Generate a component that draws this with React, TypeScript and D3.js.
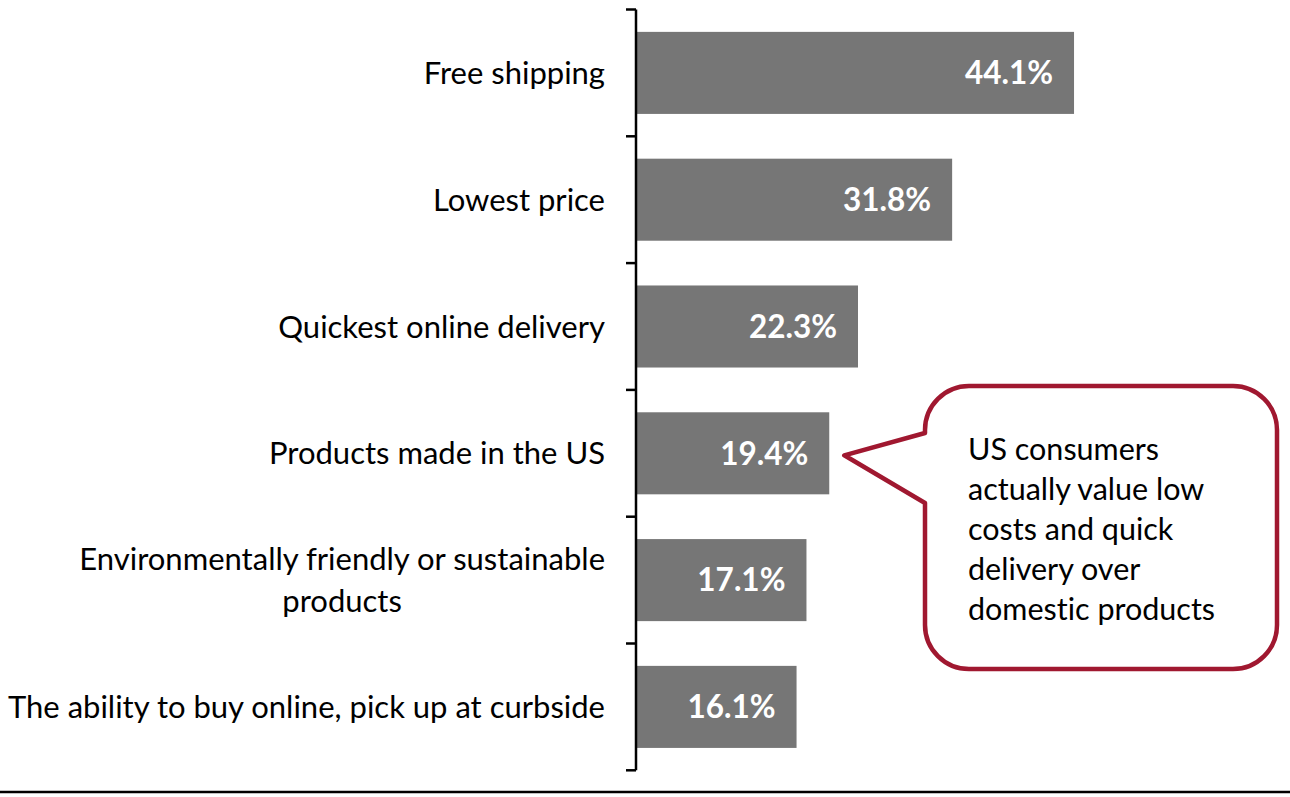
import React, { useEffect, useRef } from "react";
import * as d3 from "d3";

const categories: string[][] = [
  ["Free shipping"],
  ["Lowest price"],
  ["Quickest online delivery"],
  ["Products made in the US"],
  ["Environmentally friendly or sustainable", "products"],
  ["The ability to buy online, pick up at curbside"],
];
const values: number[] = [44.1, 31.8, 22.3, 19.4, 17.1, 16.1];
const calloutLines: string[] = [
  "US consumers",
  "actually value low",
  "costs and quick",
  "delivery over",
  "domestic products",
];
const calloutTarget = 3;

const W = 1290;
const H = 797;
const FONT = "Lato, 'Open Sans', sans-serif";
const BAR = "#767676";
const RED = "#a01830";

export default function App() {
  const ref = useRef<SVGSVGElement>(null);
  useEffect(() => {
    const svg = d3.select(ref.current);
    svg.selectAll("*").remove();
    svg.style("font-variant-ligatures", "none");
    const keys = categories.map((c) => c.join(" "));
    const x0 = 637;
    const x = d3.scaleLinear().domain([0, 45]).range([x0, x0 + 45 * 9.91]);
    const y = d3
      .scaleBand<string>()
      .domain(keys)
      .range([9.5, 770.3])
      .paddingInner(0.353)
      .paddingOuter(0.1765);
    const step = y.step();
    const rangeStart = 9.5;

    // bars
    svg
      .append("g")
      .selectAll("rect")
      .data(values)
      .join("rect")
      .attr("x", x(0))
      .attr("y", (_, i) => y(keys[i])!)
      .attr("width", (d) => x(d) - x(0))
      .attr("height", y.bandwidth())
      .attr("fill", BAR);

    // value labels
    svg
      .append("g")
      .selectAll("text")
      .data(values)
      .join("text")
      .attr("x", (d) => x(d) - 21)
      .attr("y", (_, i) => y(keys[i])! + y.bandwidth() / 2)
      .attr("dy", "0.36em")
      .attr("text-anchor", "end")
      .attr("font-family", FONT)
      .attr("font-weight", "bold")
      .attr("font-size", 31.5)
      .attr("fill", "#ffffff")
      .text((d) => d.toFixed(1) + "%");

    // axis
    const ax = svg.append("g").attr("stroke", "#000").attr("stroke-width", 2.5);
    ax.append("line")
      .attr("x1", 636)
      .attr("x2", 636)
      .attr("y1", rangeStart)
      .attr("y2", rangeStart + step * keys.length);
    d3.range(keys.length + 1).forEach((i) => {
      ax.append("line")
        .attr("x1", 626)
        .attr("x2", 636)
        .attr("y1", rangeStart + i * step)
        .attr("y2", rangeStart + i * step);
    });

    // category labels
    const lg = svg.append("g");
    categories.forEach((lines, i) => {
      const cy = y(keys[i])! + y.bandwidth() / 2;
      const lh = 42;
      const g = lg.append("g");
      const texts = lines.map((ln, j) =>
        g
          .append("text")
          .attr("y", cy + (j - (lines.length - 1) / 2) * lh)
          .attr("dy", "0.36em")
          .attr("font-family", FONT)
          .attr("font-size", 31)
          .attr("fill", "#000")
          .text(ln)
      );
      const widths = texts.map((t) => (t.node() as SVGTextElement).getComputedTextLength());
      const maxW = Math.max(...widths);
      const right = 605;
      const center = right - maxW / 2;
      texts.forEach((t) => t.attr("x", center).attr("text-anchor", "middle"));
    });

    // bottom line
    svg
      .append("line")
      .attr("x1", 0)
      .attr("x2", W)
      .attr("y1", 792)
      .attr("y2", 792)
      .attr("stroke", "#000")
      .attr("stroke-width", 2.5);

    // callout
    const L = 925, R = 1277, T = 386, B = 669, r = 44;
    const tipX = x(values[calloutTarget]) + 15;
    const tipY = y(keys[calloutTarget])! + y.bandwidth() / 2 + 2;
    const p = d3.path();
    p.moveTo(L + r, T);
    p.lineTo(R - r, T);
    p.arcTo(R, T, R, T + r, r);
    p.lineTo(R, B - r);
    p.arcTo(R, B, R - r, B, r);
    p.lineTo(L + r, B);
    p.arcTo(L, B, L, B - r, r);
    p.lineTo(L, 503);
    p.lineTo(tipX, tipY);
    p.lineTo(L, 433);
    p.lineTo(L, T + r);
    p.arcTo(L, T, L + r, T, r);
    p.closePath();
    svg
      .append("path")
      .attr("d", p.toString())
      .attr("fill", "#fff")
      .attr("stroke", RED)
      .attr("stroke-width", 4.5)
      .attr("stroke-linejoin", "round");

    svg
      .append("g")
      .selectAll("text")
      .data(calloutLines)
      .join("text")
      .attr("x", 968)
      .attr("y", (_, i) => 460 + i * 40)
      .attr("font-family", FONT)
      .attr("font-size", 30.5)
      .attr("fill", "#000")
      .text((d) => d);
  }, []);
  return (
    <svg
      ref={ref}
      width={W}
      height={H}
      style={{ position: "absolute", left: 0, top: 0, background: "#fff" }}
    />
  );
}
